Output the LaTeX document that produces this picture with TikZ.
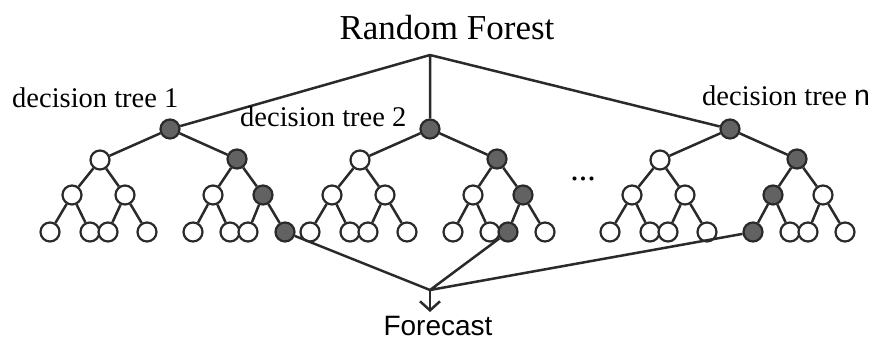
\documentclass[tikz,border=0pt]{standalone}
\usepackage{fontspec}
\setmainfont{Liberation Serif}
\newfontfamily\sansf{Liberation Sans}
\usetikzlibrary{arrows.meta}
\definecolor{ln}{HTML}{2A2A2A}
\definecolor{dk}{HTML}{626262}
\tikzset{
  nd/.style={circle,draw=ln,line width=2.2pt,fill=white,minimum size=19pt,inner sep=0pt},
  dn/.style={nd,fill=dk},
  wn/.style={nd},
  edge/.style={draw=ln,line width=2.5pt},
  lbl/.style={inner sep=0pt,anchor=base west,font=\fontsize{28.5}{30}\selectfont},
}
\newcommand\mytree[7]{%
 \begin{scope}[xshift=#2]
  \node[dn] (#1r) at (170,129) {};
  \node[wn] (#1L) at (100,160) {};
  \node[dn] (#1R) at (237,159) {};
  \node[wn] (#1LL) at (72,195) {};
  \node[wn] (#1LR) at (125,195) {};
  \node[#3] (#1RL) at (213,195) {};
  \node[#4] (#1RR) at (263,195) {};
  \node[wn] (#1LLL) at (50,232) {};
  \node[wn] (#1LLR) at (90,232) {};
  \node[wn] (#1LRL) at (108,232) {};
  \node[wn] (#1LRR) at (147,232) {};
  \node[#5] (#1RLL) at (193,232) {};
  \node[wn] (#1RLR) at (230,232) {};
  \node[#6] (#1RRL) at (248,232) {};
  \node[#7] (#1RRR) at (285,232) {};
  \draw[edge] (#1r)--(#1L) (#1r)--(#1R)
    (#1L)--(#1LL) (#1L)--(#1LR) (#1R)--(#1RL) (#1R)--(#1RR)
    (#1LL)--(#1LLL) (#1LL)--(#1LLR) (#1LR)--(#1LRL) (#1LR)--(#1LRR)
    (#1RL)--(#1RLL) (#1RL)--(#1RLR) (#1RR)--(#1RRL) (#1RR)--(#1RRR);
 \end{scope}}
\begin{document}
\begin{tikzpicture}[x=1pt,y=-1pt]
\useasboundingbox (0,0) rectangle (877,342);
\mytree{a}{0pt}{wn}{dn}{wn}{wn}{dn}
\mytree{b}{260pt}{wn}{dn}{wn}{dn}{wn}
\mytree{c}{560pt}{dn}{wn}{dn}{wn}{wn}
% title
\node[inner sep=0pt,anchor=base,font=\fontsize{35}{37}\selectfont] (title) at (447,40) {Random Forest};
\coordinate (top) at (430,55);
\draw[edge] (top)--(ar) (top)--(br) (top)--(cr);
% labels
\node[lbl] (l1) at (12,107) {decision tree 1};
\node[lbl] (l2) at (240,127) {decision tree 2};
\node[lbl] (ln) at (702,106) {decision tree {\sansf n}};
% dots
\node[inner sep=0pt,anchor=base,font=\fontsize{34}{36}\selectfont] (dots) at (583,180) {...};
% forecast
\coordinate (fc) at (430,290);
\coordinate (tip) at (430,312);
\draw[edge] (aRRR)--(fc) (bRRL)--(fc) (cRLL)--(fc);
\draw[edge,-{Straight Barb[length=9pt,width=20pt,line width=2.5pt]}] (fc)--(tip);
\node[inner sep=0pt,anchor=base,text depth=0pt,font=\sansf\fontsize{28}{30}\selectfont] (fcast) at (438,335) {Forecast};
\end{tikzpicture}
\end{document}
